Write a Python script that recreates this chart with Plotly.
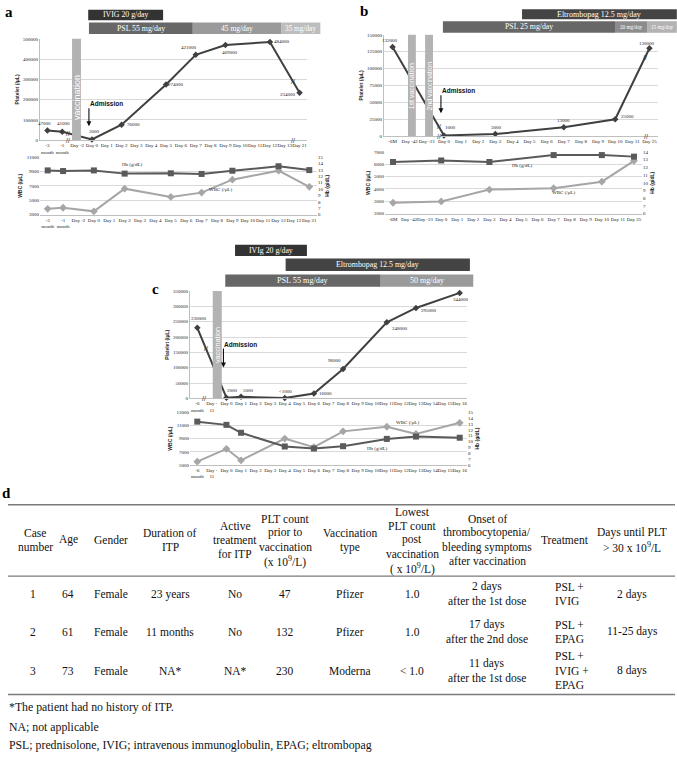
import plotly.graph_objects as go

W, H = 677, 758

# ================= DATA =================
# Panel a
a_cats = ["-3<br>month", "-1<br>month", "Day -2", "Day 0", "Day 1", "Day 2", "Day 3", "Day 4",
          "Day 5", "Day 6", "Day 7", "Day 8", "Day 9", "Day 10", "Day 11", "Day 12", "Day 13", "Day 21"]
a_days = ["-3<br>month", "-1<br>month", "Day 0", "Day 2", "Day 5", "Day 7", "Day 9", "Day 12", "Day 21"]
a_plt = [47000, 41000, 3000, 76000, 274000, 421000, 469000, 484000, 234000]
a_plt_labels = ["47000", "41000", "3000", "76000", "274000", "421000", "469000", "484000", "234000"]
a_hb = [12.9, 12.8, 12.9, 12.4, 12.45, 12.35, 12.85, 13.55, 12.95]
a_wbc = [3800, 3950, 3450, 6600, 5450, 6050, 7850, 9100, 6850]
a_vacc = [("Day -2", "vaccination")]
a_treat = [("IVIG 20 g/day", 2.75, 7.8, 0), ("PSL 55 mg/day", 2.8, 9.8, 1),
           ("45 mg/day", 9.8, 15.75, 1), ("35 mg/day", 15.75, 18.4, 1)]

# Panel b
b_cats = ["-6M", "Day -42", "Day -21", "Day 0", "Day 1", "Day 2", "Day 3", "Day 4", "Day 5",
          "Day 6", "Day 7", "Day 8", "Day 9", "Day 10", "Day 11", "Day 25"]
b_days = ["-6M", "Day 0", "Day 3", "Day 7", "Day 10", "Day 25"]
b_plt = [132000, 1000, 3000, 13000, 25000, 130000]
b_plt_labels = ["132000", "1000", "3000", "13000", "25000", "130000"]
b_hb = [12.7, 12.9, 12.7, 13.6, 13.6, 13.4]
b_wbc = [2880, 2990, 3950, 4060, 4590, 6280]
b_vacc = [("Day -42", "1st vaccination"), ("Day -21", "2nd vaccination")]
b_treat = [("Eltrombopag 12.5 mg/day", 7.56, 16.6, 0), ("PSL 25 mg/day", 2.94, 12.99, 1),
           ("20 mg/day", 12.99, 14.86, 1), ("15 mg/day", 14.86, 16.6, 1)]

# Panel c
c_cats = ["-6<br>month", "Day -<br>11", "Day 0", "Day 1", "Day 2", "Day 3", "Day 4", "Day 5", "Day 6",
          "Day 7", "Day 8", "Day 9", "Day 10", "Day 11", "Day 12", "Day 13", "Day 14", "Day 15", "Day 16"]
c_days = ["-6<br>month", "Day 0", "Day 1", "Day 4", "Day 6", "Day 8", "Day 11", "Day 13", "Day 16"]
c_plt = [230000, 2000, 5000, 1000, 16000, 96000, 248000, 295000, 344000]
c_plt_labels = ["230000", "2000", "5000", "<1000", "16000", "96000", "248000", "295000", "344000"]
c_hb = [13.4, 12.85, 11.5, 9.15, 8.8, 9.2, 10.45, 10.85, 10.65]
c_wbc = [5500, 7450, 5700, 9000, 7700, 10100, 10800, 9700, 11400]
c_vacc = [("Day -<br>11", "vaccination")]
c_treat = [("IVIg 20 g/day", 2.59, 7.52, 0), ("Eltrombopag 12.5 mg/day", 6.06, 18.7, 1),
           ("PSL 55 mg/day", 1.92, 12.58, 2), ("50 mg/day", 12.58, 18.93, 2)]

# Table (panel d)
table_headers = ["Case<br>number", "Age", "Gender", "Duration of<br>ITP", "Active<br>treatment<br>for ITP",
                 "PLT count<br>prior to<br>vaccination<br>(x 10<sup>9</sup>/L)", "Vaccination<br>type",
                 "Lowest<br>PLT count<br>post<br>vaccination<br>( x 10<sup>9</sup>/L)",
                 "Onset of<br>thrombocytopenia/<br>bleeding symptoms<br>after vaccination",
                 "Treatment", "Days until PLT<br>> 30 x 10<sup>9</sup>/L"]
table_rows = [
    ["1", "64", "Female", "23 years", "No", "47", "Pfizer", "1.0", "2 days<br>after the 1st dose", "PSL +<br>IVIG", "2 days"],
    ["2", "61", "Female", "11 months", "No", "132", "Pfizer", "1.0", "17 days<br>after the 2nd dose", "PSL +<br>EPAG", "11-25 days"],
    ["3", "73", "Female", "NA*", "NA*", "230", "Moderna", "< 1.0", "11 days<br>after the 1st dose", "PSL +<br>IVIG +<br>EPAG", "8 days"],
]
footnotes = ["*The patient had no history of ITP.", "NA; not applicable",
             "PSL; prednisolone, IVIG; intravenous immunoglobulin, EPAG; eltrombopag"]

# ================= STYLE / LAYOUT =================
SERIF = "Liberation Serif"
SANS = "Liberation Sans"
TICKFONT = dict(family=SERIF, size=5, color="#222222")
GRID = "#d9d9d9"
AXLINE = "#bfbfbf"
PLT_COL = "#404040"
HB_COL = "#5a5a5a"
WBC_COL = "#a6a6a6"
BAR_COLS = {
    "a": ["#333333", "#676767", "#9a9a9a", "#bdbdbd"],
    "b": ["#444444", "#676767", "#8c8c8c", "#b3b3b3"],
    "c": ["#333333", "#444444", "#676767", "#9a9a9a"],
}

def ref(p, i):
    return p if i == 1 else f"{p}{i}"

def key(p, i):
    return f"{p}axis" if i == 1 else f"{p}axis{i}"

def dx(x0, x1):
    return [x0 / W, x1 / W]

def dy(y0, y1):
    return [1 - y1 / H, 1 - y0 / H]

def PY(y):
    return 1 - y / H

def PX(x):
    return x / W

fig = go.Figure()
layout = {}
ann = []
shp = []


def interp(cats, days, vals, idx):
    xs = [cats.index(d) for d in days]
    for j in range(len(xs) - 1):
        if xs[j] <= idx <= xs[j + 1]:
            t = (idx - xs[j]) / (xs[j + 1] - xs[j])
            return vals[j] + t * (vals[j + 1] - vals[j])
    return vals[-1]


def build(P):
    cats = P["cats"]
    n = len(cats)
    xt, yt, xb, yw, yh = P["axes"]
    # ---- traces
    fig.add_trace(go.Scatter(x=P["days"], y=P["plt"], mode="lines+markers",
                             line=dict(color=PLT_COL, width=2),
                             marker=dict(symbol="diamond", size=5, color=PLT_COL),
                             xaxis=ref("x", xt), yaxis=ref("y", yt), cliponaxis=False, showlegend=False))
    fig.add_trace(go.Scatter(x=P["days"], y=P["wbc"], mode="lines+markers",
                             line=dict(color=WBC_COL, width=2),
                             marker=dict(symbol="diamond", size=6, color=WBC_COL),
                             xaxis=ref("x", xb), yaxis=ref("y", yw), cliponaxis=False, showlegend=False))
    fig.add_trace(go.Scatter(x=P["days"], y=P["hb"], mode="lines+markers",
                             line=dict(color=HB_COL, width=2),
                             marker=dict(symbol="square", size=6, color=HB_COL),
                             xaxis=ref("x", xb), yaxis=ref("y", yh), cliponaxis=False, showlegend=False))
    # ---- axes
    xcommon = dict(type="category", categoryorder="array", categoryarray=cats, range=[-0.5, n - 0.5],
                   tickmode="array", tickvals=cats, ticktext=cats, tickangle=0, ticks="",
                   showgrid=False, zeroline=False, showline=True, linecolor=AXLINE, linewidth=1,
                   tickfont=TICKFONT, fixedrange=True)
    layout[key("x", xt)] = dict(xcommon, domain=dx(*P["top_x"]), anchor=ref("y", yt))
    layout[key("x", xb)] = dict(xcommon, domain=dx(*P["bot_x"]), anchor=ref("y", yw))
    layout[key("y", yt)] = dict(domain=dy(*P["top_y"]), anchor=ref("x", xt), range=[0, P["plt_max"]],
                                dtick=P["plt_dtick"], tick0=0, tickformat="d", showgrid=True,
                                gridcolor=GRID, gridwidth=0.8, showline=True, linecolor=AXLINE,
                                zeroline=False, ticks="", tickfont=TICKFONT, fixedrange=True,
                                title=dict(text="<b>Platelet (/μL)</b>", font=dict(family=SANS, size=5, color="#222"), standoff=3))
    layout[key("y", yw)] = dict(domain=dy(*P["bot_y"]), anchor=ref("x", xb), range=list(P["wbc_range"]),
                                dtick=P["wbc_dtick"], tick0=P["wbc_range"][0], tickformat="d", showgrid=True,
                                gridcolor=GRID, gridwidth=0.8, showline=False, zeroline=False, ticks="",
                                tickfont=TICKFONT, fixedrange=True,
                                title=dict(text="<b>WBC (/μL)</b>", font=dict(family=SANS, size=5, color="#222"), standoff=3))
    layout[key("y", yh)] = dict(overlaying=ref("y", yw), side="right", anchor=ref("x", xb),
                                range=list(P["hb_range"]), dtick=1, tick0=6, showgrid=False, zeroline=False,
                                showline=False, ticks="", tickfont=TICKFONT, fixedrange=True,
                                title=dict(text="<b>Hb (g/dL)</b>", font=dict(family=SANS, size=5, color="#222"), standoff=3))
    xr, yr = ref("x", xt), ref("y", yt)
    # ---- point labels
    for d, v, lab, (ox, oy) in zip(P["days"], P["plt"], P["labels"], P["lab_off"]):
        ann.append(dict(x=d, y=v, xref=xr, yref=yr, text=lab, showarrow=False, xshift=ox, yshift=-oy,
                        font=dict(family=SERIF, size=5, color="#222")))
    # ---- vaccination bars
    for (cat, txt) in P["vacc"]:
        i = cats.index(cat) + P["vacc_shift"]
        hw = P["vacc_hw"]
        shp.append(dict(type="rect", xref=xr, yref=yr + " domain", x0=i - hw, x1=i + hw, y0=0, y1=1,
                        fillcolor="#b3b3b3", line=dict(width=0), layer="above"))
        ann.append(dict(x=i, y=P["vacc_ty"], xref=xr, yref=yr + " domain", text=txt, textangle=-90,
                        showarrow=False, font=dict(family=SANS, size=P["vacc_fs"], color="white")))
    # ---- admission arrow (text box left edge bound to the arrow tail)
    adm_i = cats.index("Day 0")
    ann.append(dict(x=adm_i, y=P["adm_head"], xref=xr, yref=yr, text="<b>Admission</b>", showarrow=True,
                    ax=0, ay=P["adm_len"], xanchor="left", yanchor="bottom", arrowhead=2, arrowsize=0.9,
                    arrowwidth=1.1, arrowcolor="#111", xshift=-3, borderpad=0,
                    font=dict(family=SANS, size=6.5, color="#111")))
    # ---- break marks
    for bi in P["line_breaks"]:
        ann.append(dict(x=bi, y=interp(cats, P["days"], P["plt"], bi), xref=xr, yref=yr, text="//",
                        showarrow=False, font=dict(family=SANS, size=7, color="#333")))
    for bi in P["axis_breaks"]:
        ann.append(dict(x=bi, y=0, xref=xr, yref=yr, text="//", showarrow=False,
                        font=dict(family=SANS, size=7, color="#333")))
    # ---- series labels in lower chart
    for txt, xi, yv in P["series_labels"]:
        ann.append(dict(x=xi, y=yv, xref=ref("x", xb), yref=ref("y", yw), text=txt, showarrow=False,
                        font=dict(family=SERIF, size=5, color="#222")))
    # ---- treatment bars
    cols = BAR_COLS[P["name"]]
    for k, (txt, s, e, row) in enumerate(P["treat"]):
        y0, y1 = P["rows"][row]
        f0, f1 = (s + 0.5) / n, (e + 0.5) / n
        shp.append(dict(type="rect", xref=xr + " domain", yref="paper", x0=f0, x1=f1, y0=PY(y1), y1=PY(y0),
                        fillcolor=cols[k], line=dict(width=0), layer="above"))
        ann.append(dict(x=(f0 + f1) / 2, y=PY((y0 + y1) / 2), xref=xr + " domain", yref="paper", text=txt,
                        showarrow=False, xanchor="center", yanchor="middle",
                        font=dict(family=SERIF, size=P["treat_fs"][k], color="white")))
    # ---- panel letter
    ann.append(dict(x=PX(P["letter"][0]), y=PY(P["letter"][1]), xref="paper", yref="paper",
                    text=f"<b>{P['name']}</b>", showarrow=False, xanchor="center", yanchor="middle",
                    font=dict(family=SERIF, size=15, color="#000")))


build(dict(name="a", cats=a_cats, days=a_days, plt=a_plt, labels=a_plt_labels, hb=a_hb, wbc=a_wbc,
           axes=(1, 1, 2, 2, 3), top_x=(40, 307), top_y=(37, 139), bot_x=(40, 317), bot_y=(156, 214),
           plt_max=500000, plt_dtick=100000, wbc_range=(3000, 11000), wbc_dtick=2000, hb_range=(6, 15),
           lab_off=[(-3, -7), (1, -8), (3, -8), (12, 0), (10, 0), (-7, -7), (5, 7), (12, 0), (-12, 2)],
           vacc=a_vacc, vacc_shift=-0.04, vacc_hw=0.3, vacc_ty=0.42, vacc_fs=9,
           adm_head=68600, adm_len=-18,
           line_breaks=[1.39, 16.56], axis_breaks=[1.39, 16.56],
           series_labels=[("Hb (g/dL)", 5.5, 9900), ("WBC (/μL)", 11.25, 6450)],
           treat=a_treat, rows=[(7.7, 18.3), (20.7, 32.3)], treat_fs=[7.8, 7.8, 7.5, 7.3],
           letter=(9, 10)))

build(dict(name="b", cats=b_cats, days=b_days, plt=b_plt, labels=b_plt_labels, hb=b_hb, wbc=b_wbc,
           axes=(3, 4, 4, 5, 6), top_x=(384, 658), top_y=(33, 135), bot_x=(385, 642), bot_y=(151, 213),
           plt_max=150000, plt_dtick=25000, wbc_range=(2000, 7000), wbc_dtick=1000, hb_range=(6, 14),
           lab_off=[(-3, -6), (7, -8), (1, -7), (0, -7), (12, -3), (-2, -5)],
           vacc=b_vacc, vacc_shift=0.13, vacc_hw=0.23, vacc_ty=0.49, vacc_fs=7,
           adm_head=33800, adm_len=-18,
           line_breaks=[2.71, 14.74], axis_breaks=[2.71, 14.8],
           series_labels=[("Hb (g/dL)", 8.0, 5870), ("WBC (/μL)", 10.6, 3690)],
           treat=b_treat, rows=[(7.3, 17.3), (19.3, 31)], treat_fs=[8, 7.8, 5.2, 5.2],
           letter=(364, 9)))

build(dict(name="c", cats=c_cats, days=c_days, plt=c_plt, labels=c_plt_labels, hb=c_hb, wbc=c_wbc,
           axes=(5, 7, 6, 8, 9), top_x=(190, 467), top_y=(291, 399), bot_x=(190, 467), bot_y=(413, 466),
           plt_max=350000, plt_dtick=50000, wbc_range=(5000, 13000), wbc_dtick=2000, hb_range=(6, 15),
           lab_off=[(2, -9), (6, -7), (7, -6), (1, -7), (12, 0), (-9, -8), (13, 6), (13, 3), (1, 7)],
           vacc=c_vacc, vacc_shift=0.37, vacc_hw=0.31, vacc_ty=0.5, vacc_fs=7.2,
           adm_head=100500, adm_len=-19,
           line_breaks=[0.6], axis_breaks=[0.46],
           series_labels=[("WBC (/μL)", 14.4, 11490), ("Hb (g/dL)", 12.3, 7570)],
           treat=c_treat, rows=[(244.3, 255.7), (258.3, 270.7), (274.3, 286.7)], treat_fs=[7.8, 7.9, 8.2, 8],
           letter=(155, 289)))

# ================= TABLE =================
TFONT = dict(family=SERIF, size=11.5, color="#111")
col_x = [33, 68, 111, 170, 235, 285, 350, 412, 487, 553, 632]
col_align = ["center"] * 9 + ["left", "center"]
LS = 14.3
header_cy = 541.5
row_cy = [596, 634, 673]


def cell(text, x, cy, align):
    lines = text.split("<br>")
    m = len(lines)
    for k, ln in enumerate(lines):
        yy = cy + (k - (m - 1) / 2) * LS
        ann.append(dict(x=PX(x), y=PY(yy), xref="paper", yref="paper", text=ln, showarrow=False,
                        xanchor="left" if align == "left" else "center", yanchor="middle",
                        font=TFONT))


hdr_x = list(col_x)
hdr_x[0] = 35
hdr_x[9] = 565
for j, h in enumerate(table_headers):
    cell(h, hdr_x[j], header_cy, "center")
for r, row in enumerate(table_rows):
    for j, v in enumerate(row):
        cell(v, col_x[j], row_cy[r], col_align[j])

for yy, wdt in [(506, 1.5), (578, 1.2), (697, 1.5)]:
    shp.append(dict(type="line", xref="paper", yref="paper", x0=PX(8), x1=PX(675), y0=PY(yy), y1=PY(yy),
                    line=dict(color="#7a7a7a", width=wdt)))

for t, yy in zip(footnotes, [710, 730, 748]):
    ann.append(dict(x=PX(7), y=PY(yy), xref="paper", yref="paper", text=t, showarrow=False,
                    xanchor="left", yanchor="middle", font=dict(family=SERIF, size=11.8, color="#111")))

ann.append(dict(x=PX(6), y=PY(494), xref="paper", yref="paper", text="<b>d</b>", showarrow=False,
                xanchor="center", yanchor="middle", font=dict(family=SERIF, size=15, color="#000")))

fig.update_layout(width=W, height=H, margin=dict(l=0, r=0, t=0, b=0), paper_bgcolor="white",
                  plot_bgcolor="white", showlegend=False, annotations=ann, shapes=shp, **layout)

fig.write_html("out.html", config={"displayModeBar": False},
               post_script="document.body.style.margin='0';document.body.style.overflow='hidden';")
